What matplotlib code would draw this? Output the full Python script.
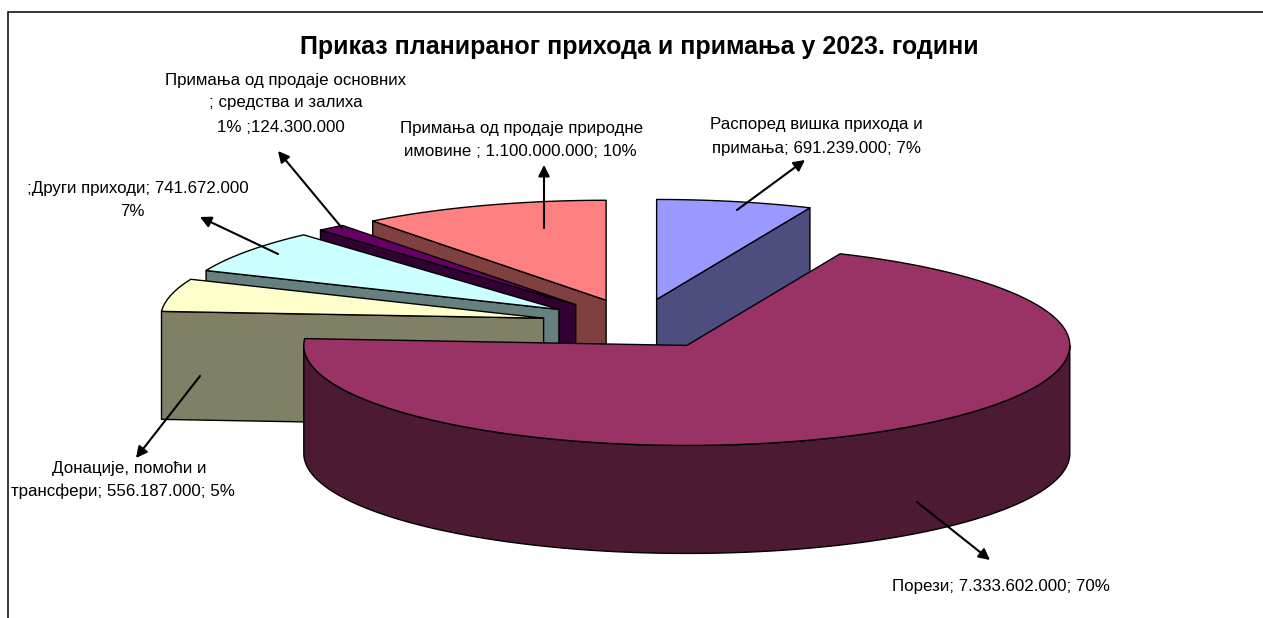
import numpy as np
import matplotlib
matplotlib.use("Agg")
import matplotlib.pyplot as plt
from matplotlib.patches import Polygon

plt.rcParams['font.family'] = ['Liberation Sans', 'DejaVu Sans']

# --- data (clockwise from 12 o'clock) ---
categories = ["Распоред вишка прихода и примања", "Порези", "Донације, помоћи и трансфери",
              "Други приходи", "Примања од продаје основних средстава и залиха",
              "Примања од продаје природне имовине"]
amounts = [691239000, 7333602000, 556187000, 741672000, 124300000, 1100000000]
top_colors = ["#9999FF", "#993366", "#FFFFCC", "#CCFFFF", "#660066", "#FF8080"]
side_colors = ["#4D4D80", "#4D1A33", "#808066", "#668080", "#330033", "#804040"]
title = "Приказ планираног прихода и примања у 2023. години"

# label lines, with anchor (x centre, y centre) in pixels
labels = [
    ("Примања од продаје основних", 286, 80), ("; средства и залиха", 286, 103), ("1% ;124.300.000", 281, 127),
    ("Примања од продаје природне", 522, 128), ("имовине ; 1.100.000.000; 10%", 520, 151),
    ("Распоред вишка прихода и", 816, 125), ("примања; 691.239.000; 7%", 816, 148),
    (";Други приходи; 741.672.000", 138, 188), ("7%", 132, 211),
    ("Донације, помоћи и", 129, 468), ("трансфери; 556.187.000; 5%", 123, 491),
    ("Порези; 7.333.602.000; 70%", 1001, 586),
]
leaders = [((737, 210), (805, 160)), ((544, 228), (544, 165)), ((342, 228), (278, 151)),
           ((278, 254), (200, 217)), ((200, 376), (136, 458)), ((917, 502), (990, 560))]

# --- projection of the 3-D pie ---
CX, CY, RX, RY, DEPTH, EXPLODE = 637, 324, 383, 100, 108, 96
W, H = 1263, 618

fig = plt.figure(figsize=(W / 100, H / 100), dpi=100, facecolor="white")
ax = fig.add_axes([0, 0, 1, 1])
ax.set_xlim(0, W)
ax.set_ylim(H, 0)
ax.axis("off")

LW = 1.0


def rim(c, t):
    t = np.radians(t)
    return np.column_stack([c[0] + RX * np.sin(t), c[1] - RY * np.cos(t)])


def poly(pts, color, z):
    ax.add_patch(Polygon(pts, closed=True, facecolor=color, edgecolor="black",
                         linewidth=LW, joinstyle="round", zorder=z))


fracs = np.array(amounts, dtype=float) / sum(amounts)
edges = np.concatenate([[0], np.cumsum(fracs) * 360])

slices = []
for i in range(len(amounts)):
    a0, a1 = edges[i], edges[i + 1]
    mid = np.radians((a0 + a1) / 2)
    c = (CX + EXPLODE * np.sin(mid), CY - EXPLODE * RY / RX * np.cos(mid))
    slices.append((i, a0, a1, c))

# painter's order: back slices first, biggest front slice last
order = [5, 4, 3, 2, 0, 1]
z = 2
for i in order:
    _, a0, a1, c = slices[i]
    apex = np.array(c)
    down = np.array([0, DEPTH])
    # radial walls facing the viewer
    for t, vis in ((a0, np.sin(np.radians(a0)) < -1e-6), (a1, np.sin(np.radians(a1)) > 1e-6)):
        if vis:
            p = rim(c, t)[0]
            poly([p, apex, apex + down, p + down], side_colors[i], z)
            z += 1
    # curved outer wall (front half only)
    s0, s1 = max(a0, 90), min(a1, 270)
    if s1 > s0:
        arc = rim(c, np.linspace(s0, s1, 200))
        poly(np.vstack([arc, (arc + down)[::-1]]), side_colors[i], z)
        z += 1
    # top face
    arc = rim(c, np.linspace(a0, a1, 200))
    poly(np.vstack([apex, arc]), top_colors[i], z)
    z += 1

# chart-area border: top and left only are within the frame
ax.plot([7.5, 7.5, W], [H, 11.5, 11.5], color="black", lw=1.1, zorder=1, solid_joinstyle="miter")

ax.text(639, 47, title, ha="center", va="center", fontsize=18, fontweight="bold", color="black", zorder=50)
for s, x, y in labels:
    ax.text(x, y, s, ha="center", va="center", fontsize=12.15, color="black", zorder=50)

for tail, head in leaders:
    ax.annotate("", xy=head, xytext=tail, zorder=40,
                arrowprops=dict(arrowstyle="-|>,head_length=0.55,head_width=0.28", color="black",
                                lw=1.5, shrinkA=0, shrinkB=0, mutation_scale=12))

fig.savefig("out.png", dpi=100, facecolor="white")
